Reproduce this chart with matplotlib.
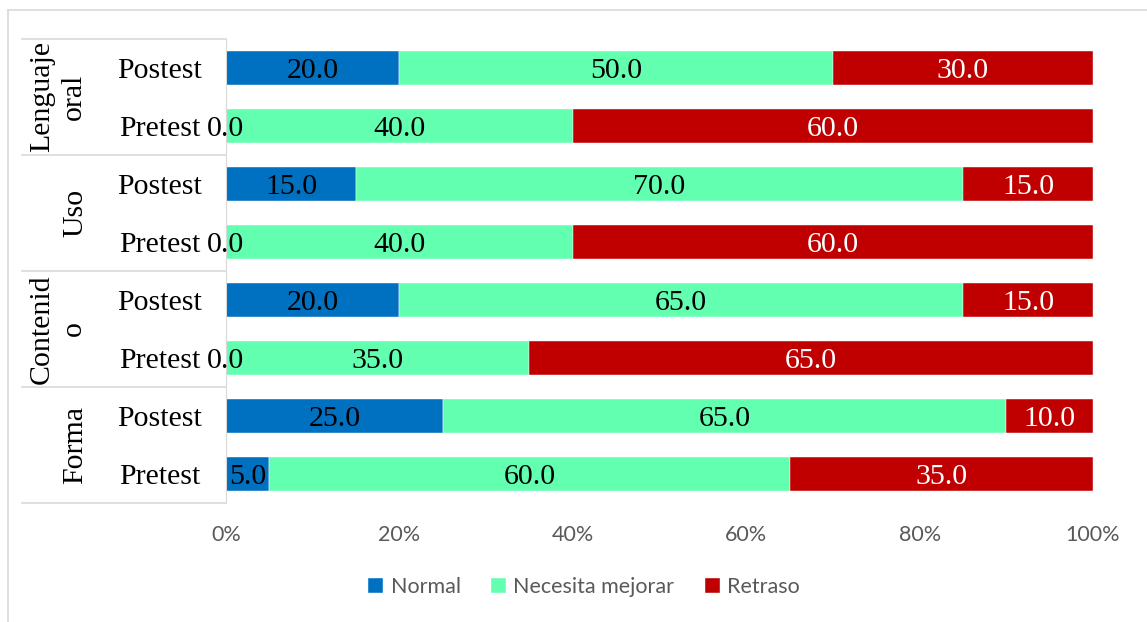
import numpy as np
import matplotlib as mpl
mpl.use('Agg')
import matplotlib.pyplot as plt
from matplotlib.lines import Line2D
import matplotlib.transforms as mtransforms

# data, top row first
groups = ['Lenguaje\noral', 'Uso', 'Contenid\no', 'Forma']
stages = ['Postest', 'Pretest']
normal = [20.0, 0.0, 15.0, 0.0, 20.0, 0.0, 25.0, 5.0]
mejorar = [50.0, 40.0, 70.0, 40.0, 65.0, 35.0, 65.0, 60.0]
retraso = [30.0, 60.0, 15.0, 60.0, 15.0, 65.0, 10.0, 35.0]
series_names = ['Normal', 'Necesita mejorar', 'Retraso']
colors = ['#0070C0', '#63FFB0', '#C00000']
label_colors = ['black', 'black', 'white']

W, H = 1147, 622
fig = plt.figure(figsize=(W / 100, H / 100), dpi=100)

# outer chart border (left and top visible)
fig.add_artist(Line2D([8 / W, 8 / W], [0, 1 - 10 / H], color='#D9D9D9', lw=1.2, transform=fig.transFigure))
fig.add_artist(Line2D([8 / W, 1], [1 - 10 / H, 1 - 10 / H], color='#D9D9D9', lw=1.2, transform=fig.transFigure))

ax = fig.add_axes([226 / W, 1 - 503 / H, (1093 - 226) / W, (503 - 39) / H])

n = len(normal)
y = np.arange(n)
vals = np.array([normal, mejorar, retraso])
tot = vals.sum(axis=0)
pct = vals / tot * 100
left = np.zeros(n)
serif = 'Liberation Serif'
fs = 21.5
for i in range(3):
    ax.barh(y, pct[i], left=left, height=0.57, color=colors[i], label=series_names[i],
            edgecolor='white', linewidth=0.3)
    for j in range(n):
        ax.text(left[j] + pct[i][j] / 2, y[j], '%.1f' % vals[i][j], ha='center', va='center_baseline',
                fontsize=fs, family=serif, color=label_colors[i])
    left += pct[i]

ax.set_xlim(0, 100)
ax.set_ylim(n - 0.5, -0.5)
ax.set_xticks(np.arange(0, 101, 20))
ax.set_xticklabels(['%d%%' % v for v in range(0, 101, 20)], family='Lato', fontsize=15.5, color='#595959')
ax.tick_params(axis='x', length=0, pad=16)
ax.set_yticks([])
for s in ['top', 'right', 'bottom']:
    ax.spines[s].set_visible(False)
ax.spines['left'].set_color('#D9D9D9')

# multi-level category axis
trans = mtransforms.blended_transform_factory(ax.transAxes, ax.transData)
aw = 1093 - 226
x_line = (22 - 226) / aw
for k in range(len(groups) + 1):
    yy = k * 2 - 0.5
    ax.add_line(Line2D([x_line, 0], [yy, yy], color='#D9D9D9', lw=1.2, transform=trans, clip_on=False))
for j in range(n):
    ax.text((160 - 226) / aw, y[j], stages[j % 2], ha='center', va='center_baseline',
            fontsize=fs, family=serif, transform=trans)
for g, name in enumerate(groups):
    gx = 58 if '\n' in name else 75
    ax.text((gx - 226) / aw, g * 2 + 0.5, name, ha='center', va='center', rotation=90,
            fontsize=fs, family=serif, transform=trans, linespacing=1.3, multialignment='center')

leg = fig.legend(loc='center', bbox_to_anchor=(584 / W, 1 - 587 / H), ncol=3, frameon=False,
                 prop={'family': 'Lato', 'size': 15.5}, handlelength=0.7, handleheight=0.7,
                 handletextpad=0.35, columnspacing=1.4)
for t in leg.get_texts():
    t.set_color('#595959')

plt.savefig('out.png', dpi=100)
